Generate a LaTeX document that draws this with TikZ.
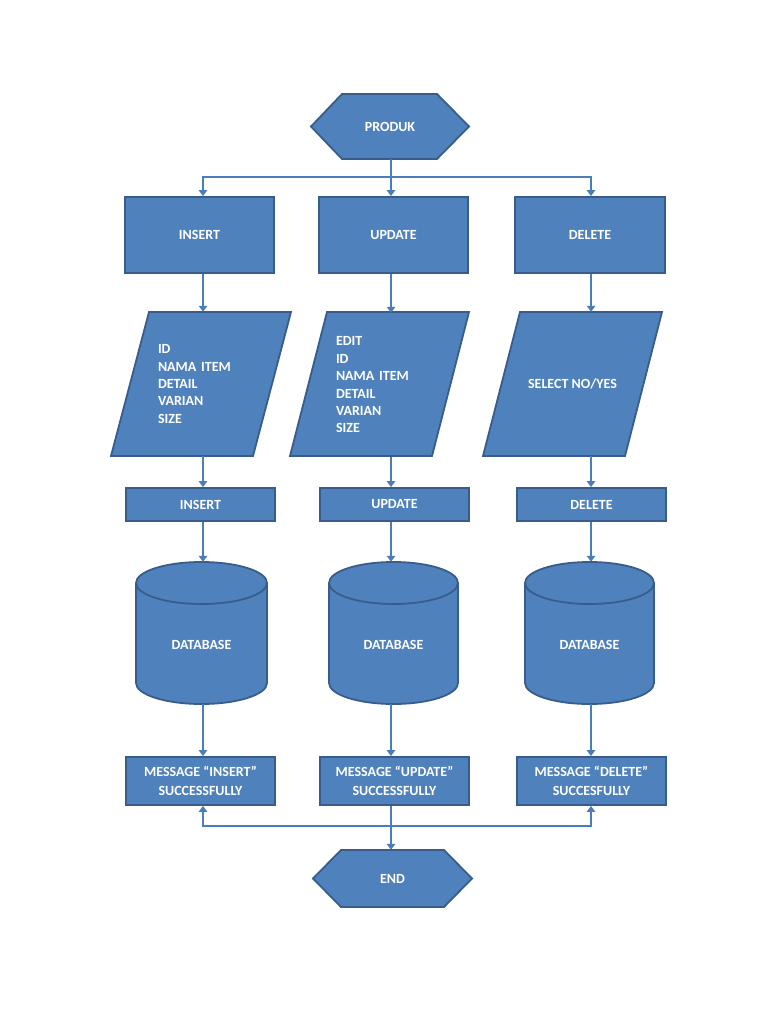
\documentclass[tikz,border=0pt]{standalone}
\usepackage{fontspec}
\setmainfont{Carlito}
\usetikzlibrary{arrows.meta}
\definecolor{boxblue}{RGB}{79,129,189}
\definecolor{edgeblue}{RGB}{56,93,138}
\definecolor{lineblue}{RGB}{74,126,187}
\tikzset{
  shp/.style={fill=boxblue, draw=edgeblue, line width=1.8pt, line join=miter},
  rim/.style={draw=edgeblue, line width=1.8pt},
  lbl/.style={text=white, inner sep=0pt, font=\bfseries\fontsize{14}{17.4}\selectfont},
  boxn/.style={rectangle, shp, lbl},
  conn/.style={draw=lineblue, line width=2.8pt},
  arr/.style={conn, -{Triangle[width=8.5pt,length=6pt]}},
}
\begin{document}
\begin{tikzpicture}[x=1pt,y=1pt]
\useasboundingbox (0,0) rectangle (768,-1024);
\fill[white] (0,0) rectangle (768,-1024);

% column lines
\coordinate (c1) at (203,0);
\coordinate (c2) at (391,0);
\coordinate (c3) at (591,0);

% PRODUK hexagon
\path[shp] (311,-126.5) -- (342,-94) -- (437,-94) -- (469,-126.5) -- (437,-159) -- (342,-159) -- cycle;
\node[lbl, minimum width=158, minimum height=65] (prod) at (390,-126.5) {PRODUK};

% row 1 boxes
\node[boxn, minimum width=149, minimum height=76] (ins) at (199.5,-235) {INSERT};
\node[boxn, minimum width=149, minimum height=76] (upd) at (393.5,-235) {UPDATE};
\node[boxn, minimum width=150, minimum height=76] (del) at (590,-235) {DELETE};

% parallelograms
\path[shp] (149,-312) -- (291,-312) -- (253,-456) -- (111,-456) -- cycle;
\node[lbl, align=left, text width=86, minimum width=142, minimum height=144] (p1) at (201,-384) {ID\\NAMA ITEM\\DETAIL\\VARIAN\\SIZE};
\path[shp] (327,-312) -- (469,-312) -- (432,-456) -- (290,-456) -- cycle;
\node[lbl, align=left, text width=87, minimum width=142, minimum height=144] (p2) at (379.5,-385) {EDIT\\ID\\NAMA ITEM\\DETAIL\\VARIAN\\SIZE};
\path[shp] (520,-312) -- (662,-312) -- (625,-456) -- (483,-456) -- cycle;
\node[lbl, minimum width=142, minimum height=144] (p3) at (572.5,-384) {SELECT NO/YES};

% small boxes
\node[boxn, minimum width=149, minimum height=33] (sins) at (200.5,-504.5) {INSERT};
\node[boxn, minimum width=149, minimum height=33] (supd) at (394.5,-504.5) {UPDATE};
\node[boxn, minimum width=149, minimum height=33] (sdel) at (591.5,-504.5) {DELETE};

% cylinders
\path[shp] (136,-583) -- (136,-683) arc[start angle=180,end angle=360,x radius=65.5,y radius=21] -- (267,-583) arc[start angle=0,end angle=180,x radius=65.5,y radius=21] -- cycle;
\draw[rim] (136,-583) arc[start angle=180,end angle=360,x radius=65.5,y radius=21];
\node[lbl, text height=33pt, text depth=0pt, minimum width=131, minimum height=142] (db1) at (201.5,-633) {DATABASE};

\path[shp] (329,-583) -- (329,-683) arc[start angle=180,end angle=360,x radius=64.5,y radius=21] -- (458,-583) arc[start angle=0,end angle=180,x radius=64.5,y radius=21] -- cycle;
\draw[rim] (329,-583) arc[start angle=180,end angle=360,x radius=64.5,y radius=21];
\node[lbl, text height=33pt, text depth=0pt, minimum width=129, minimum height=142] (db2) at (393.5,-633) {DATABASE};

\path[shp] (525,-583) -- (525,-683) arc[start angle=180,end angle=360,x radius=64.5,y radius=21] -- (654,-583) arc[start angle=0,end angle=180,x radius=64.5,y radius=21] -- cycle;
\draw[rim] (525,-583) arc[start angle=180,end angle=360,x radius=64.5,y radius=21];
\node[lbl, text height=33pt, text depth=0pt, minimum width=129, minimum height=142] (db3) at (589.5,-633) {DATABASE};

% message boxes
\node[boxn, align=center, font=\bfseries\fontsize{14}{19}\selectfont, minimum width=149, minimum height=48] (mi) at (200.5,-781) {MESSAGE “INSERT”\\SUCCESSFULLY};
\node[boxn, align=center, font=\bfseries\fontsize{14}{19}\selectfont, minimum width=149, minimum height=48] (mu) at (394.5,-781) {MESSAGE “UPDATE”\\SUCCESSFULLY};
\node[boxn, align=center, font=\bfseries\fontsize{14}{19}\selectfont, minimum width=149, minimum height=48] (md) at (591.5,-781) {MESSAGE “DELETE”\\SUCCESFULLY};

% END hexagon
\path[shp] (313,-878.5) -- (341,-850) -- (444,-850) -- (472,-878.5) -- (444,-907) -- (341,-907) -- cycle;
\node[lbl, minimum width=159, minimum height=57] (endn) at (392.5,-878.5) {END};

% connectors top
\coordinate (jt) at (391,-177);
\draw[conn] (prod.south -| jt) -- (jt);
\draw[arr] (jt) -| (c1 |- ins.north);
\draw[arr] (jt) -- (c2 |- upd.north);
\draw[arr] (jt) -| (c3 |- del.north);

% column connectors
\draw[arr] (c1 |- ins.south) -- (c1 |- p1.north);
\draw[arr] (c2 |- upd.south) -- (c2 |- p2.north);
\draw[arr] (c3 |- del.south) -- (c3 |- p3.north);

\draw[arr] (c1 |- p1.south) -- (c1 |- sins.north);
\draw[arr] (c2 |- p2.south) -- (c2 |- supd.north);
\draw[arr] (c3 |- p3.south) -- (c3 |- sdel.north);

\draw[arr] (c1 |- sins.south) -- (c1 |- db1.north);
\draw[arr] (c2 |- supd.south) -- (c2 |- db2.north);
\draw[arr] (c3 |- sdel.south) -- (c3 |- db3.north);

\draw[arr] (c1 |- db1.south) -- (c1 |- mi.north);
\draw[arr] (c2 |- db2.south) -- (c2 |- mu.north);
\draw[arr] (c3 |- db3.south) -- (c3 |- md.north);

% bottom connectors
\coordinate (jb) at (391,-826);
\draw[arr] (c2 |- mu.south) -- (c2 |- endn.north);
\draw[arr] (jb) -| (c1 |- mi.south);
\draw[arr] (jb) -| (c3 |- md.south);
\end{tikzpicture}
\end{document}
